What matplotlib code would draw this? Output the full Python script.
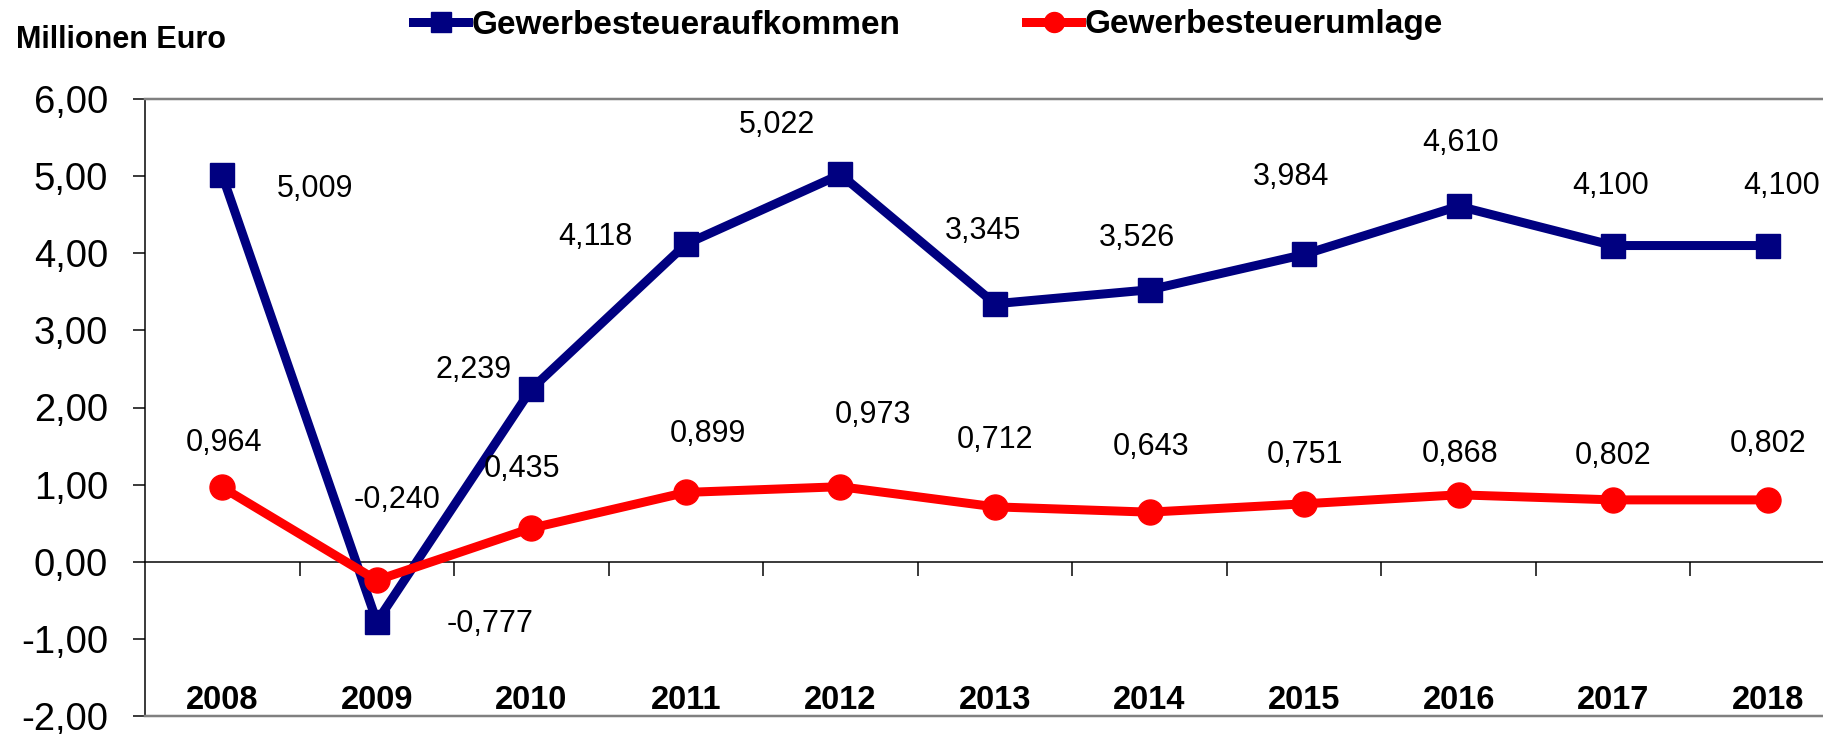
import matplotlib
matplotlib.use("Agg")
import matplotlib.pyplot as plt
from matplotlib.ticker import FuncFormatter, FixedLocator

plt.rcParams['font.family'] = ['Liberation Sans', 'DejaVu Sans']

years = ['2008', '2009', '2010', '2011', '2012', '2013', '2014', '2015', '2016', '2017', '2018']
aufkommen = [5.009, -0.777, 2.239, 4.118, 5.022, 3.345, 3.526, 3.984, 4.610, 4.100, 4.100]
umlage = [0.964, -0.240, 0.435, 0.899, 0.973, 0.712, 0.643, 0.751, 0.868, 0.802, 0.802]
y_ticks = [-2, -1, 0, 1, 2, 3, 4, 5, 6]

# label offsets in pixels (dx, dy with dy positive = up)
off_auf = [(93, -14), (113, -2), (-58, 19), (-91, 7), (-64, 49), (-12, 73),
           (-13, 52), (-13, 77), (2, 63), (-3, 60), (14, 60)]
off_uml = [(2, 44), (20, 80), (-9, 59), (22, 58), (33, 72), (0, 67),
           (2, 65), (1, 49), (1, 41), (0, 44), (0, 56)]

W, H, DPI = 1823, 734, 100
fig = plt.figure(figsize=(W / DPI, H / DPI), dpi=DPI)
px = 72.0 / DPI  # points per pixel

left, right, top, bottom = 145, 1845, 99, 716
ax = fig.add_axes([left / W, (H - bottom) / H, (right - left) / W, (bottom - top) / H])

x = list(range(len(years)))
blue = '#000080'
red = '#FF0000'
l1, = ax.plot(x, aufkommen, color=blue, lw=9 * px, marker='s', ms=24 * px,
              label='Gewerbesteueraufkommen', zorder=3, solid_joinstyle='miter')
l2, = ax.plot(x, umlage, color=red, lw=9 * px, marker='o', ms=25 * px,
              label='Gewerbesteuerumlage', zorder=4)

fmt = lambda v: f"{v:.3f}".replace('.', ',')
for xi, v, (dx, dy) in zip(x, aufkommen, off_auf):
    ax.annotate(fmt(v), (xi, v), xytext=(dx * px, dy * px), textcoords='offset points',
                ha='center', va='center', fontsize=22, color='black', annotation_clip=False)
for xi, v, (dx, dy) in zip(x, umlage, off_uml):
    ax.annotate(fmt(v), (xi, v), xytext=(dx * px, dy * px), textcoords='offset points',
                ha='center', va='center', fontsize=22, color='black', annotation_clip=False)

ax.set_xlim(-0.5, len(years) - 0.5)
ax.set_ylim(-2, 6)
ax.set_yticks(y_ticks)
ax.yaxis.set_major_formatter(FuncFormatter(lambda v, p: f"{v:.2f}".replace('.', ',')))
ax.tick_params(axis='y', direction='out', length=12 * px, width=1.5 * px, pad=25 * px,
               labelsize=27.5, colors='black')

ax.set_xticks(x)
ax.set_xticklabels(years, fontweight='bold', fontsize=23.5)
ax.tick_params(axis='x', length=0, pad=-22)

for s in ['top', 'bottom']:
    ax.spines[s].set_color('#808080')
    ax.spines[s].set_linewidth(2.5 * px)
ax.spines['right'].set_visible(False)
ax.spines['left'].set_color('black')
ax.spines['left'].set_linewidth(1.5 * px)

# zero line with category boundary ticks
sec = ax.secondary_xaxis(0.25)
sec.set_xticks([i + 0.5 for i in range(len(years) - 1)])
sec.set_xticklabels([])
sec.tick_params(direction='out', length=14 * px, width=1.5 * px, colors='black')
sec.spines['bottom'].set_color('black')
sec.spines['bottom'].set_linewidth(1.5 * px)

fig.text(16 / W, 1 - 48 / H, 'Millionen Euro', fontsize=22, fontweight='bold',
         ha='left', va='baseline')

leg = fig.legend(handles=[l1, l2], loc='center left', bbox_to_anchor=(413 / W, 1 - 25 / H),
                 ncol=2, frameon=False, fontsize=24, borderpad=0, borderaxespad=0,
                 handlelength=1.65, handletextpad=0.12, columnspacing=3.75, markerscale=0.8)
for t in leg.get_texts():
    t.set_fontweight('bold')

fig.savefig('out.png', dpi=DPI)
